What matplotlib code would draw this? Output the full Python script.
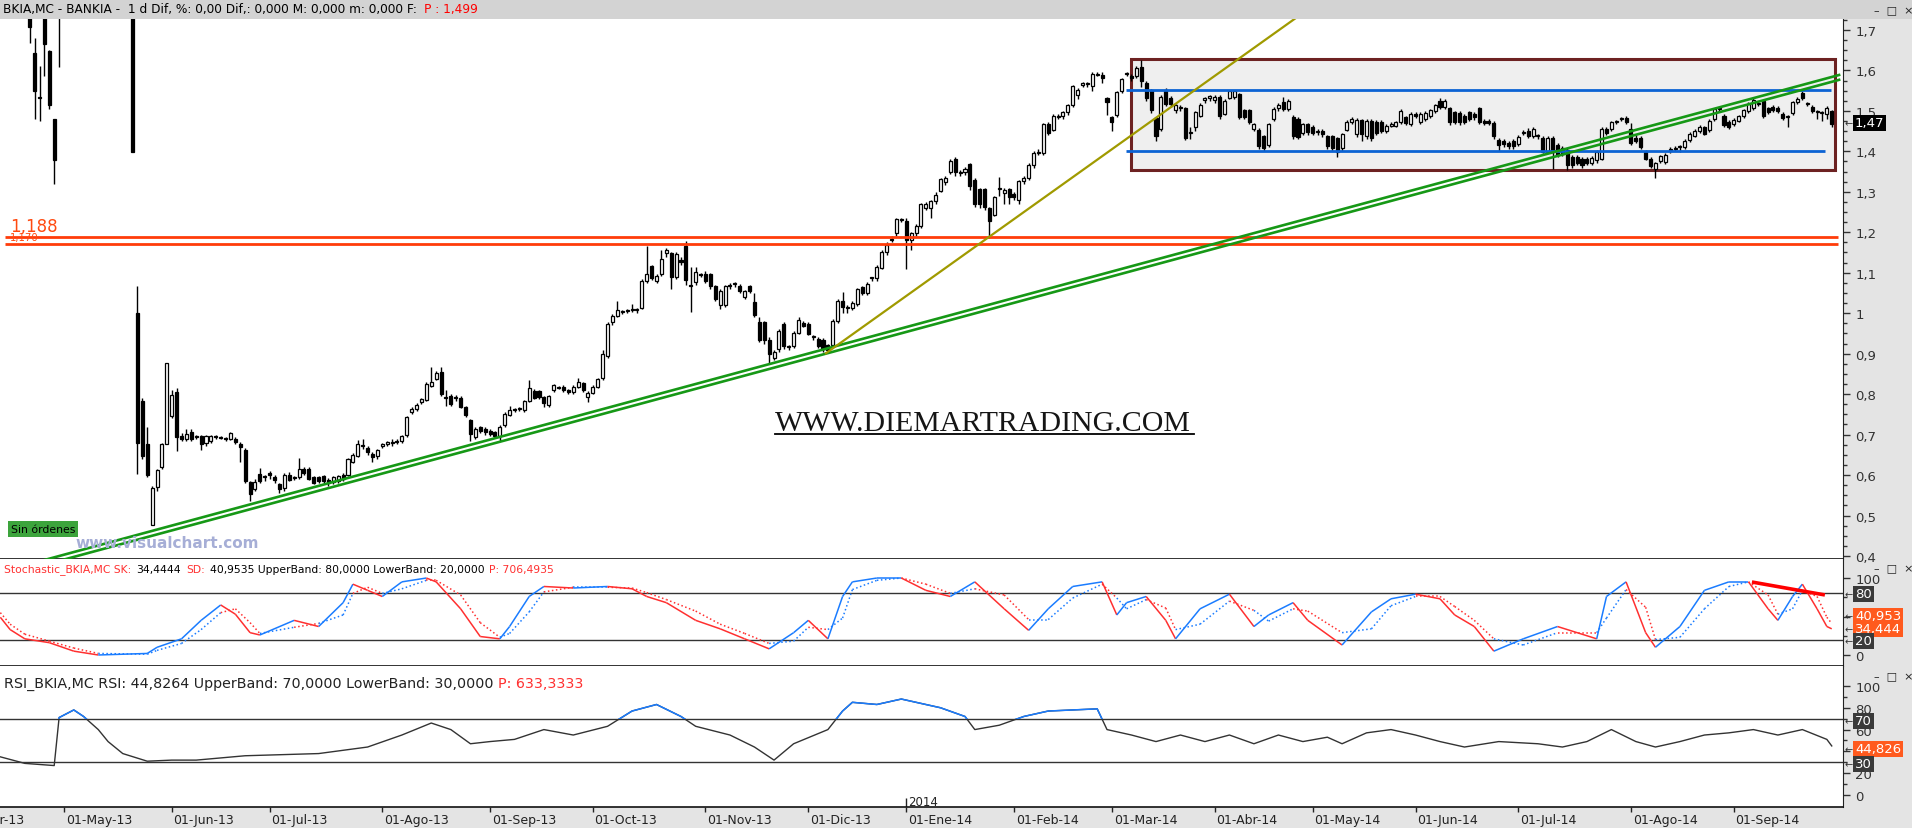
import numpy as np
import pandas as pd
import matplotlib
matplotlib.use("Agg")
import matplotlib.pyplot as plt
from matplotlib.collections import LineCollection
from matplotlib.patches import Rectangle
from matplotlib.lines import Line2D

W, H = 1912, 829
plt.rcParams['font.family'] = ['DejaVu Sans']

# ---------------- data ----------------
holidays = ['2013-05-01', '2013-12-25', '2013-12-26', '2014-01-01',
            '2014-04-18', '2014-04-21', '2014-05-01']
meses = ['Ene', 'Feb', 'Mar', 'Abr', 'May', 'Jun', 'Jul', 'Ago', 'Sep', 'Oct', 'Nov', 'Dic']
first_bar = '2013-04-22'
ref_day = '2013-05-02'   # bar 0 of the drawings below

# daily OHLC (None = no bar drawn, price above the visible range)
opens = [1.76, 1.642, 1.535, 1.75, 1.648, 1.48, 1.85] + [None] * 14 + [
    1.85, 1.0, 0.784, 0.676, 0.477, 0.570, 0.620, 0.678, 0.746, 0.805,
    0.697, 0.689, 0.706, 0.696, 0.697, 0.679, 0.685, 0.695, 0.693, 0.692,
    0.690, 0.690, 0.678, 0.663, 0.582, 0.565, 0.603, 0.595, 0.605, 0.596,
    0.578, 0.568, 0.601, 0.593, 0.595, 0.616, 0.616, 0.595, 0.595, 0.597,
    0.588, 0.582, 0.586, 0.600, 0.600, 0.633, 0.648, 0.672, 0.667, 0.652,
    0.646, 0.672, 0.678, 0.681, 0.683, 0.684, 0.700, 0.757, 0.763, 0.781,
    0.786, 0.821, 0.838, 0.854, 0.791, 0.795, 0.791, 0.791, 0.767, 0.735,
    0.693, 0.718, 0.715, 0.710, 0.706, 0.697, 0.723, 0.748, 0.761, 0.763,
    0.761, 0.783, 0.808, 0.808, 0.792, 0.773, 0.809, 0.817, 0.818, 0.809,
    0.806, 0.818, 0.827, 0.793, 0.804, 0.818, 0.840, 0.894, 0.978, 0.993,
    1.003, 1.005, 1.007, 1.008, 1.014, 1.080, 1.116, 1.080, 1.097, 1.148,
    1.148, 1.090, 1.132, 1.165, 1.068, 1.076, 1.096, 1.097, 1.097, 1.067,
    1.020, 1.020, 1.067, 1.071, 1.067, 1.039, 1.067, 1.027, 0.978, 0.978,
    0.935, 0.889, 0.912, 0.974, 0.917, 0.918, 0.952, 0.976, 0.974, 0.940,
    0.937, 0.935, 0.922, 0.922, 0.980, 1.031, 1.016, 1.012, 1.022, 1.065,
    1.050, 1.087, 1.087, 1.112, 1.150, 1.182, 1.197, 1.230, 1.229, 1.182,
    1.197, 1.216, 1.260, 1.260, 1.277, 1.303, 1.323, 1.348, 1.382, 1.348,
    1.348, 1.368, 1.329, 1.307, 1.307, 1.259, 1.243, 1.307, 1.297, 1.307,
    1.294, 1.280, 1.327, 1.334, 1.365, 1.395, 1.397, 1.467, 1.453, 1.484,
    1.487, 1.497, 1.514, 1.540, 1.563, 1.567, 1.561, 1.589, 1.589, 1.531,
    1.484, 1.490, 1.548, 1.591, 1.586, 1.586, 1.608, 1.570, 1.552, 1.482,
    1.456, 1.552, 1.533, 1.501, 1.506, 1.506, 1.446, 1.459, 1.488, 1.527,
    1.533, 1.527, 1.535, 1.493, 1.533, 1.535, 1.541, 1.501, 1.501, 1.456,
    1.453, 1.437, 1.416, 1.480, 1.506, 1.521, 1.504, 1.484, 1.480, 1.446,
    1.467, 1.459, 1.448, 1.450, 1.437, 1.437, 1.433, 1.408, 1.453, 1.472,
    1.442, 1.478, 1.437, 1.476, 1.473, 1.473, 1.450, 1.463, 1.463, 1.472,
    1.484, 1.467, 1.493, 1.472, 1.480, 1.487, 1.499, 1.524, 1.510, 1.507,
    1.497, 1.495, 1.488, 1.497, 1.493, 1.507, 1.476, 1.476, 1.470, 1.427,
    1.425, 1.420, 1.425, 1.419, 1.446, 1.450, 1.437, 1.437, 1.433, 1.399,
    1.433, 1.416, 1.408, 1.403, 1.386, 1.386, 1.382, 1.382, 1.371, 1.378,
    1.382, 1.456, 1.456, 1.473, 1.480, 1.482, 1.456, 1.433, 1.433, 1.399,
    1.382, 1.357, 1.376, 1.373, 1.403, 1.405, 1.410, 1.410, 1.427, 1.439,
    1.450, 1.459, 1.453, 1.480, 1.504, 1.488, 1.473, 1.467, 1.476, 1.487,
    1.499, 1.507, 1.518, 1.524, 1.507, 1.510, 1.507, 1.493, 1.484, 1.495,
    1.523, 1.544, 1.518, 1.510, 1.497, 1.495, 1.493, 1.499]

highs = [1.78, 1.680, 1.612, 1.78, 1.650, 1.48, 1.86] + [None] * 14 + [
    1.86, 1.067, 0.79, 0.72, 0.572, 0.615, 0.68, 0.878, 0.810, 0.815,
    0.705, 0.715, 0.715, 0.70, 0.70, 0.70, 0.70, 0.70, 0.697, 0.695,
    0.707, 0.693, 0.682, 0.666, 0.585, 0.59, 0.617, 0.60, 0.61, 0.60,
    0.58, 0.605, 0.608, 0.598, 0.642, 0.62, 0.62, 0.598, 0.598, 0.60,
    0.592, 0.598, 0.60, 0.605, 0.642, 0.655, 0.687, 0.69, 0.672, 0.656,
    0.665, 0.68, 0.685, 0.688, 0.69, 0.70, 0.747, 0.768, 0.778, 0.79,
    0.83, 0.867, 0.857, 0.866, 0.81, 0.80, 0.798, 0.795, 0.77, 0.738,
    0.718, 0.722, 0.72, 0.714, 0.71, 0.723, 0.755, 0.77, 0.765, 0.768,
    0.785, 0.835, 0.812, 0.81, 0.795, 0.798, 0.826, 0.82, 0.822, 0.812,
    0.822, 0.84, 0.83, 0.807, 0.822, 0.84, 0.91, 0.978, 0.998, 1.030,
    1.008, 1.01, 1.022, 1.013, 1.085, 1.165, 1.12, 1.098, 1.155, 1.16,
    1.152, 1.15, 1.14, 1.178, 1.114, 1.115, 1.10, 1.105, 1.10, 1.07,
    1.06, 1.07, 1.075, 1.078, 1.072, 1.058, 1.07, 1.05, 0.991, 0.98,
    0.94, 0.91, 0.96, 0.978, 0.922, 0.955, 0.99, 0.98, 0.978, 0.945,
    0.94, 0.938, 0.925, 0.985, 1.035, 1.052, 1.02, 1.03, 1.062, 1.068,
    1.078, 1.09, 1.118, 1.155, 1.175, 1.19, 1.236, 1.236, 1.235, 1.20,
    1.22, 1.272, 1.275, 1.28, 1.30, 1.335, 1.34, 1.38, 1.386, 1.355,
    1.362, 1.372, 1.335, 1.31, 1.31, 1.262, 1.29, 1.337, 1.31, 1.31,
    1.30, 1.33, 1.34, 1.37, 1.40, 1.405, 1.47, 1.472, 1.492, 1.492,
    1.50, 1.518, 1.565, 1.556, 1.572, 1.572, 1.595, 1.597, 1.595, 1.535,
    1.488, 1.55, 1.582, 1.597, 1.59, 1.61, 1.625, 1.575, 1.555, 1.486,
    1.54, 1.556, 1.537, 1.518, 1.515, 1.51, 1.46, 1.50, 1.52, 1.535,
    1.54, 1.54, 1.54, 1.53, 1.552, 1.552, 1.545, 1.505, 1.505, 1.47,
    1.458, 1.44, 1.47, 1.51, 1.52, 1.535, 1.53, 1.49, 1.485, 1.47,
    1.47, 1.465, 1.455, 1.455, 1.44, 1.44, 1.436, 1.445, 1.478, 1.485,
    1.482, 1.48, 1.48, 1.48, 1.478, 1.478, 1.467, 1.472, 1.476, 1.505,
    1.488, 1.497, 1.498, 1.497, 1.50, 1.505, 1.518, 1.533, 1.53, 1.51,
    1.50, 1.50, 1.492, 1.50, 1.498, 1.51, 1.48, 1.48, 1.475, 1.432,
    1.43, 1.425, 1.43, 1.44, 1.452, 1.458, 1.46, 1.442, 1.438, 1.438,
    1.438, 1.42, 1.412, 1.407, 1.39, 1.39, 1.386, 1.386, 1.388, 1.403,
    1.46, 1.46, 1.476, 1.478, 1.485, 1.488, 1.47, 1.44, 1.437, 1.403,
    1.386, 1.374, 1.392, 1.395, 1.41, 1.412, 1.416, 1.43, 1.448, 1.455,
    1.466, 1.463, 1.48, 1.508, 1.51, 1.492, 1.477, 1.482, 1.49, 1.505,
    1.522, 1.535, 1.524, 1.528, 1.51, 1.515, 1.512, 1.497, 1.49, 1.525,
    1.535, 1.55, 1.523, 1.515, 1.502, 1.50, 1.512, 1.503]

lows = [1.667, 1.480, 1.476, 1.586, 1.504, 1.320, 1.609] + [None] * 14 + [
    1.399, 0.603, 0.64, 0.595, 0.476, 0.56, 0.615, 0.676, 0.74, 0.66,
    0.685, 0.685, 0.684, 0.69, 0.663, 0.672, 0.68, 0.69, 0.688, 0.685,
    0.686, 0.676, 0.633, 0.58, 0.535, 0.56, 0.58, 0.585, 0.59, 0.58,
    0.555, 0.56, 0.585, 0.588, 0.59, 0.60, 0.587, 0.577, 0.58, 0.58,
    0.572, 0.578, 0.58, 0.586, 0.597, 0.63, 0.645, 0.665, 0.65, 0.633,
    0.64, 0.668, 0.672, 0.672, 0.678, 0.68, 0.695, 0.75, 0.758, 0.776,
    0.783, 0.817, 0.834, 0.795, 0.77, 0.77, 0.782, 0.765, 0.744, 0.685,
    0.688, 0.705, 0.70, 0.697, 0.693, 0.685, 0.72, 0.745, 0.755, 0.758,
    0.757, 0.78, 0.788, 0.788, 0.768, 0.768, 0.805, 0.812, 0.805, 0.80,
    0.80, 0.814, 0.805, 0.78, 0.80, 0.815, 0.835, 0.89, 0.97, 0.99,
    0.998, 1.0, 1.003, 1.0, 1.01, 1.075, 1.083, 1.075, 1.093, 1.14,
    1.06, 1.085, 1.12, 1.07, 1.002, 1.07, 1.09, 1.075, 1.06, 1.03,
    1.01, 1.015, 1.06, 1.065, 1.05, 1.035, 1.05, 0.99, 0.93, 0.925,
    0.876, 0.885, 0.905, 0.912, 0.91, 0.914, 0.948, 0.965, 0.945, 0.935,
    0.915, 0.905, 0.905, 0.918, 0.975, 1.0, 1.0, 1.008, 1.018, 1.045,
    1.045, 1.08, 1.08, 1.108, 1.145, 1.175, 1.19, 1.225, 1.11, 1.157,
    1.19, 1.21, 1.255, 1.235, 1.27, 1.30, 1.318, 1.343, 1.34, 1.34,
    1.342, 1.305, 1.262, 1.26, 1.255, 1.186, 1.24, 1.29, 1.27, 1.27,
    1.28, 1.27, 1.32, 1.33, 1.36, 1.39, 1.39, 1.44, 1.45, 1.48,
    1.48, 1.49, 1.51, 1.53, 1.558, 1.56, 1.55, 1.585, 1.57, 1.49,
    1.45, 1.485, 1.545, 1.585, 1.575, 1.58, 1.56, 1.525, 1.495, 1.425,
    1.45, 1.512, 1.51, 1.495, 1.50, 1.428, 1.43, 1.45, 1.485, 1.52,
    1.525, 1.52, 1.48, 1.49, 1.53, 1.53, 1.48, 1.48, 1.468, 1.45,
    1.405, 1.40, 1.41, 1.475, 1.50, 1.50, 1.50, 1.43, 1.43, 1.44,
    1.44, 1.44, 1.44, 1.435, 1.405, 1.40, 1.386, 1.40, 1.45, 1.468,
    1.435, 1.425, 1.43, 1.425, 1.44, 1.445, 1.445, 1.46, 1.46, 1.468,
    1.465, 1.462, 1.483, 1.468, 1.475, 1.482, 1.495, 1.505, 1.505, 1.465,
    1.468, 1.465, 1.468, 1.475, 1.478, 1.468, 1.465, 1.465, 1.43, 1.402,
    1.41, 1.405, 1.405, 1.412, 1.44, 1.432, 1.432, 1.43, 1.395, 1.395,
    1.357, 1.385, 1.388, 1.355, 1.36, 1.365, 1.36, 1.365, 1.365, 1.372,
    1.378, 1.44, 1.45, 1.467, 1.474, 1.467, 1.415, 1.42, 1.405, 1.378,
    1.358, 1.334, 1.37, 1.368, 1.395, 1.40, 1.398, 1.405, 1.422, 1.435,
    1.445, 1.44, 1.448, 1.475, 1.498, 1.46, 1.455, 1.462, 1.472, 1.483,
    1.495, 1.503, 1.512, 1.483, 1.492, 1.496, 1.494, 1.477, 1.46, 1.49,
    1.518, 1.528, 1.513, 1.494, 1.48, 1.475, 1.48, 1.46]

closes = [1.706, 1.548, 1.531, 1.665, 1.514, 1.378, 1.78] + [None] * 14 + [
    1.399, 0.680, 0.648, 0.600, 0.568, 0.612, 0.678, 0.876, 0.797, 0.693,
    0.690, 0.702, 0.690, 0.694, 0.676, 0.696, 0.697, 0.693, 0.692, 0.688,
    0.703, 0.681, 0.670, 0.585, 0.554, 0.582, 0.586, 0.594, 0.599, 0.588,
    0.565, 0.601, 0.589, 0.592, 0.616, 0.605, 0.591, 0.581, 0.586, 0.585,
    0.580, 0.595, 0.597, 0.591, 0.639, 0.650, 0.676, 0.671, 0.656, 0.644,
    0.661, 0.676, 0.678, 0.680, 0.682, 0.697, 0.744, 0.763, 0.774, 0.787,
    0.825, 0.831, 0.852, 0.801, 0.790, 0.775, 0.790, 0.769, 0.748, 0.701,
    0.714, 0.710, 0.707, 0.701, 0.697, 0.720, 0.752, 0.762, 0.760, 0.763,
    0.782, 0.814, 0.791, 0.792, 0.778, 0.795, 0.823, 0.816, 0.809, 0.805,
    0.818, 0.829, 0.809, 0.804, 0.818, 0.837, 0.900, 0.974, 0.993, 1.009,
    1.003, 1.005, 1.008, 1.009, 1.080, 1.097, 1.088, 1.093, 1.133, 1.155,
    1.090, 1.146, 1.127, 1.082, 1.067, 1.101, 1.095, 1.080, 1.067, 1.036,
    1.054, 1.067, 1.066, 1.071, 1.054, 1.054, 1.054, 0.995, 0.935, 0.934,
    0.900, 0.903, 0.957, 0.918, 0.916, 0.952, 0.982, 0.969, 0.948, 0.940,
    0.920, 0.912, 0.910, 0.980, 1.029, 1.016, 1.012, 1.025, 1.059, 1.050,
    1.073, 1.087, 1.114, 1.150, 1.169, 1.182, 1.233, 1.231, 1.182, 1.197,
    1.216, 1.269, 1.269, 1.277, 1.293, 1.331, 1.334, 1.376, 1.348, 1.347,
    1.357, 1.314, 1.269, 1.269, 1.263, 1.229, 1.286, 1.307, 1.304, 1.288,
    1.288, 1.327, 1.334, 1.365, 1.397, 1.399, 1.467, 1.446, 1.488, 1.487,
    1.497, 1.514, 1.561, 1.552, 1.569, 1.567, 1.591, 1.592, 1.580, 1.521,
    1.473, 1.546, 1.578, 1.591, 1.580, 1.606, 1.575, 1.533, 1.501, 1.437,
    1.535, 1.518, 1.518, 1.514, 1.506, 1.433, 1.446, 1.497, 1.514, 1.531,
    1.533, 1.535, 1.488, 1.524, 1.548, 1.548, 1.484, 1.484, 1.473, 1.467,
    1.412, 1.408, 1.467, 1.504, 1.514, 1.504, 1.524, 1.437, 1.436, 1.467,
    1.448, 1.446, 1.448, 1.442, 1.412, 1.408, 1.399, 1.442, 1.473, 1.480,
    1.478, 1.442, 1.476, 1.433, 1.446, 1.450, 1.463, 1.467, 1.472, 1.499,
    1.470, 1.493, 1.488, 1.493, 1.495, 1.501, 1.514, 1.510, 1.524, 1.472,
    1.472, 1.473, 1.473, 1.480, 1.484, 1.472, 1.470, 1.470, 1.437, 1.416,
    1.419, 1.414, 1.414, 1.436, 1.446, 1.437, 1.456, 1.437, 1.399, 1.433,
    1.399, 1.391, 1.393, 1.365, 1.365, 1.371, 1.365, 1.370, 1.384, 1.399,
    1.456, 1.446, 1.472, 1.473, 1.480, 1.472, 1.420, 1.425, 1.410, 1.382,
    1.363, 1.370, 1.388, 1.391, 1.403, 1.405, 1.410, 1.425, 1.444, 1.450,
    1.461, 1.444, 1.476, 1.504, 1.504, 1.465, 1.461, 1.478, 1.487, 1.501,
    1.518, 1.527, 1.518, 1.488, 1.497, 1.501, 1.499, 1.482, 1.484, 1.521,
    1.530, 1.533, 1.518, 1.499, 1.497, 1.495, 1.507, 1.467]

# stochastic %K and %D (bar number, value)
stoch_bar = [-13, -11, -8, -3, 2, 7, 17, 19, 24, 28, 32, 35, 38, 40, 47, 52, 57, 59, 62, 65,
             69, 74, 76, 81, 85, 89, 91, 95, 98, 104, 111, 116, 119, 123, 129, 134, 139, 144, 149, 152,
             156, 159, 161, 166, 171, 176, 181, 186, 192, 197, 201, 206, 212, 215, 217, 221, 225, 227, 232, 238,
             243, 246, 251, 254, 261, 267, 271, 276, 281, 284, 288, 292, 298, 305, 313, 315, 319, 323, 325, 330,
             335, 340, 344, 348, 350, 353, 355, 358, 360, 361]
stoch_k = [49, 33, 21, 16, 5, 0, 2, 10, 21, 45, 65, 53, 29, 26, 45, 37, 68, 92, 84, 76,
           95, 100, 95, 60, 24, 21, 37, 76, 89, 87, 89, 86, 76, 68, 45, 34, 21, 8, 29, 45,
           21, 76, 95, 100, 100, 84, 76, 95, 60, 32, 60, 89, 95, 52, 68, 76, 45, 21, 60, 79,
           37, 52, 68, 45, 13, 56, 73, 79, 73, 52, 37, 5, 21, 37, 21, 76, 95, 29, 10, 37,
           84, 95, 95, 60, 45, 76, 92, 60, 37, 34]
stoch_d = [55, 40, 27, 18, 9, 2, 1, 6, 15, 33, 55, 60, 42, 28, 36, 41, 52, 80, 88, 80,
           86, 97, 97, 78, 42, 23, 28, 56, 82, 88, 88, 87, 81, 72, 57, 40, 28, 15, 18, 36,
           33, 48, 85, 97, 100, 92, 80, 86, 78, 46, 46, 74, 92, 74, 60, 72, 61, 33, 40, 70,
           58, 44, 60, 57, 29, 34, 64, 76, 76, 63, 45, 21, 13, 29, 29, 48, 85, 62, 20, 23,
           60, 89, 95, 78, 53, 60, 84, 76, 49, 41]

# RSI (bar number, value)
rsi_bar = [-13, -8, -2, -1, 2, 4, 7, 9, 12, 17, 22, 27, 37, 52, 62, 69, 75, 79, 83, 87,
           92, 98, 104, 111, 116, 121, 126, 129, 136, 141, 145, 149, 156, 159, 161, 166, 171, 179, 184, 186,
           191, 196, 201, 211, 213, 218, 223, 228, 233, 238, 243, 248, 253, 258, 261, 266, 271, 276, 281, 286,
           293, 301, 306, 311, 316, 321, 325, 330, 335, 340, 345, 350, 355, 360, 361]
rsi_val = [35, 29, 27, 71, 78, 72, 60, 49, 38, 31, 32, 32, 36, 38, 44, 55, 66, 60, 47, 49,
           51, 60, 55, 63, 77, 83, 72, 63, 55, 44, 32, 47, 60, 77, 85, 83, 88, 80, 72, 60,
           64, 72, 77, 79, 60, 55, 49, 55, 49, 55, 47, 55, 49, 53, 47, 57, 60, 55, 49, 44,
           49, 47, 44, 49, 60, 49, 44, 49, 55, 57, 60, 55, 60, 51, 45]

# drawn objects on the price panel (bar number, price)
support_pts = [(14, 0.449), (362, 1.587)]
fast_trend_pts = [(155.6, 0.901), (246.3, 1.684)]
range_box = (217.9, 361.7, 1.354, 1.629)
range_lines = [(1.552, 216.9, 360.8), (1.402, 216.9, 359.7)]
resist_levels = [1.188, 1.170]
stoch_trend = [(344.7, 94.8), (359.6, 78)]

# ---------------- layout helpers ----------------
def box(x0, y0, x1, y1):
    return [x0 / W, 1 - y1 / H, (x1 - x0) / W, (y1 - y0) / H]

def fx(x):
    return x / W

def fy(y):
    return 1 - y / H

XL = (-13.07, 363.3)
AXR = 1843
GRAY = '#e4e4e4'
BLUE = '#1a7cff'
RED = '#ff3030'
ORANGE = '#ff5a1e'

fig = plt.figure(figsize=(W / 100, H / 100), dpi=100, facecolor=GRAY)
fig.patches.append(Rectangle((0, fy(20)), 1, 20 / H, transform=fig.transFigure,
                             facecolor='#d3d3d3', edgecolor='none'))

ax = fig.add_axes(box(0, 20, AXR, 560))
axs = fig.add_axes(box(0, 560, AXR, 667))
axr = fig.add_axes(box(0, 667, AXR, 808))
axx = fig.add_axes(box(0, 808, AXR, 829))

for a in (ax, axs, axr):
    a.set_facecolor('white')
    a.set_xlim(*XL)
    a.set_xticks([])
    for s in ('left', 'top'):
        a.spines[s].set_visible(False)
    a.spines['right'].set_color('#222222')
    a.spines['bottom'].set_color('#111111')
    a.spines['bottom'].set_linewidth(1.2)
    a.yaxis.tick_right()
    a.tick_params(axis='y', which='major', length=5, width=1, pad=4,
                  labelsize=9.5, labelcolor='#333333', color='#333333')
    a.tick_params(axis='y', which='minor', length=3, width=1, color='#333333')

# ---------------- price panel ----------------
ax.set_ylim(0.3926, 1.727)
ax.set_yticks(np.round(np.arange(0.4, 1.71, 0.1), 1))
ax.set_yticks(np.arange(0.4, 1.726, 0.025), minor=True)
ax.set_yticklabels([('%g' % v).replace('.', ',') for v in np.round(np.arange(0.4, 1.71, 0.1), 1)])

dates = pd.bdate_range('2013-04-02', '2014-10-03')
dates = dates[~dates.isin(pd.to_datetime(holidays))]
x0 = dates.get_loc(pd.Timestamp(ref_day))
start = dates.get_loc(pd.Timestamp(first_bar)) - x0

o = np.array(opens, dtype=float)
hi = np.array(highs, dtype=float)
lo = np.array(lows, dtype=float)
c = np.array(closes, dtype=float)
xs = np.arange(len(o)) + start
ok = ~np.isnan(o)
up = ok & (c >= o)
dn = ok & (c < o)
body_lo = np.fmin(o, c)
body_h = np.maximum(np.abs(c - o), 0.0025)

x1, x2, y1, y2 = range_box
ax.add_patch(Rectangle((x1, y1), x2 - x1, y2 - y1, facecolor='#efefef',
                       edgecolor='#6d2222', lw=2.2, zorder=1))

ax.vlines(xs[ok], lo[ok], hi[ok], color='black', lw=1, zorder=3)
ax.bar(xs[up], body_h[up], bottom=body_lo[up], width=0.62, color='white',
       edgecolor='black', lw=0.9, zorder=4)
ax.bar(xs[dn], body_h[dn], bottom=body_lo[dn], width=0.62, color='black',
       edgecolor='black', lw=0.9, zorder=4)

for lvl, a_, b_ in range_lines:
    ax.hlines(lvl, a_, b_, color='#0c63d4', lw=2, zorder=5)
ax.hlines(resist_levels, -12.05, 362.3, color='#ff3c0a', lw=2, zorder=5)

(sa, pa), (sb, pb) = support_pts
slope = (pb - pa) / (sb - sa)
gx = np.array([-8, 362.5])
for off in (0.0, -0.012):
    ax.plot(gx, pa + slope * (gx - sa) + off, color='#169816', lw=1.9, zorder=6)

(fa, qa), (fb, qb) = fast_trend_pts
fs = (qb - qa) / (fb - fa)
tx = np.array([fa, 258])
ax.plot(tx, qa + fs * (tx - fa), color='#a09a00', lw=1.6, zorder=6)

# ---------------- stochastic panel ----------------
axs.set_ylim(-14.3, 124.7)
axs.set_yticks([0, 50, 100])
axs.set_yticks([25, 75], minor=True)
for lvl in (80, 20):
    axs.axhline(lvl, color='#333333', lw=1, zorder=2)
kx = np.array(stoch_bar, dtype=float)
ky = np.array(stoch_k, dtype=float)
dy = np.array(stoch_d, dtype=float)
cols = [BLUE if k >= d else RED for k, d in zip(ky[1:], dy[1:])]
for vals, style, lw in ((dy, ':', 1.1), (ky, '-', 1.1)):
    pts = np.column_stack([kx, vals])
    segs = np.stack([pts[:-1], pts[1:]], axis=1)
    axs.add_collection(LineCollection(segs, colors=cols, lw=lw, linestyles=style, zorder=3))
(ta, va_), (tb, vb_) = stoch_trend
axs.plot([ta, tb], [va_, vb_], color='#ff0000', lw=2.6, zorder=4, solid_capstyle='butt')

# ---------------- RSI panel ----------------
axr.set_ylim(-11.0, 118.3)
axr.set_yticks([0, 20, 40, 60, 80, 100])
axr.set_yticks(np.arange(10, 100, 20), minor=True)
for lvl in (70, 30):
    axr.axhline(lvl, color='#333333', lw=1, zorder=2)
axr.plot(rsi_bar, rsi_val, color='#333333', lw=1, zorder=3)
hot, = axr.plot(rsi_bar, rsi_val, color=BLUE, lw=1.1, zorder=4)
clip = Rectangle((XL[0], 70), XL[1] - XL[0], 60, transform=axr.transData)
hot.set_clip_path(clip)

# ---------------- date axis ----------------
axx.set_facecolor(GRAY)
axx.set_xlim(*XL)
axx.set_ylim(0, 1)
axx.axis('off')
for per in pd.period_range('2013-04', '2014-09', freq='M'):
    in_month = dates[(dates.year == per.year) & (dates.month == per.month)]
    pos = dates.get_loc(in_month[0]) - x0
    axx.vlines(pos, 0.78, 1, color='#222222', lw=1)
    axx.text(pos + 0.35, 0.42, '01-%s-%02d' % (meses[per.month - 1], per.year % 100),
             fontsize=9, color='#222222', va='center', ha='left', clip_on=False)
    if per.month == 1:
        axr.vlines(pos, -11, -2.5, color='#222222', lw=1)
        axr.text(pos + 0.35, -6.2, str(per.year), fontsize=8.5, color='#222222',
                 va='center', ha='left')

# ---------------- texts ----------------
renderer = fig.canvas.get_renderer()

def text_row(pieces, x_start, x_end, y, gap=5):
    # write coloured pieces one after the other, sized so the row spans x_start..x_end
    txts = [fig.text(fx(x_start), fy(y), s, fontsize=10, color=col, va='center')
            for s, col in pieces]
    width = sum(t.get_window_extent(renderer).width for t in txts)
    size = 10 * (x_end - x_start - gap * (len(txts) - 1)) / width
    x = x_start
    for t in txts:
        t.set_fontsize(size)
        t.set_x(fx(x))
        x += t.get_window_extent(renderer).width + gap

text_row([('BKIA,MC - BANKIA -  1 d Dif, %: 0,00 Dif,: 0,000 M: 0,000 m: 0,000 F:', 'black'),
          ('P : 1,499', 'red')], 3, 478, 10, gap=7)
text_row([('Stochastic_BKIA,MC SK:', RED), ('34,4444', 'black'), ('SD:', RED),
          ('40,9535 UpperBand: 80,0000 LowerBand: 20,0000', 'black'),
          ('P: 706,4935', RED)], 4, 550, 570)
text_row([('RSI_BKIA,MC RSI: 44,8264 UpperBand: 70,0000 LowerBand: 30,0000', '#222222'),
          ('P: 633,3333', RED)], 4, 583, 684)
for yb in (10, 568, 676):
    fig.text(fx(1874), fy(yb), '–  □  ×', fontsize=8, va='center', color='#222222')

fig.text(fx(10), fy(227), '1,188', fontsize=12, va='center', color='#ff4a10')
fig.text(fx(10), fy(238), '1,170', fontsize=7.3, va='center', color='#ff4a10')

fig.text(fx(11), fy(530), 'Sin órdenes', fontsize=7.8, va='center', color='black',
         bbox=dict(boxstyle='square,pad=0.25', facecolor='#3ca43c', edgecolor='none'))
fig.text(fx(75), fy(544), 'www.visualchart.com', fontsize=11, fontweight='bold',
         va='center', color='#a6aed6')

fig.text(fx(775), fy(431), 'WWW.DIEMARTRADING.COM', fontsize=21.5, family='Liberation Serif',
         va='baseline', color='#151515')
fig.add_artist(Line2D([fx(775), fx(1194)], [fy(435), fy(435)], color='black', lw=1.3))

def tag(y, s, fc, arrow=True):
    if arrow:
        fig.text(fx(1845), fy(y), '←', fontsize=7, va='center', color='#333333')
    fig.text(fx(1855), fy(y), s, fontsize=9.5, va='center', color='white',
             bbox=dict(boxstyle='square,pad=0.15', facecolor=fc, edgecolor='none'))

tag(124, '1,47', 'black')
tag(595, '80', '#3a3a3a')
tag(617, '40,953', ORANGE)
tag(630, '34,444', ORANGE)
tag(642, '20', '#3a3a3a')
tag(722, '70', '#3a3a3a')
tag(750, '44,826', ORANGE)
tag(765, '30', '#3a3a3a')

fig.savefig('out.png', dpi=100, facecolor=fig.get_facecolor())
